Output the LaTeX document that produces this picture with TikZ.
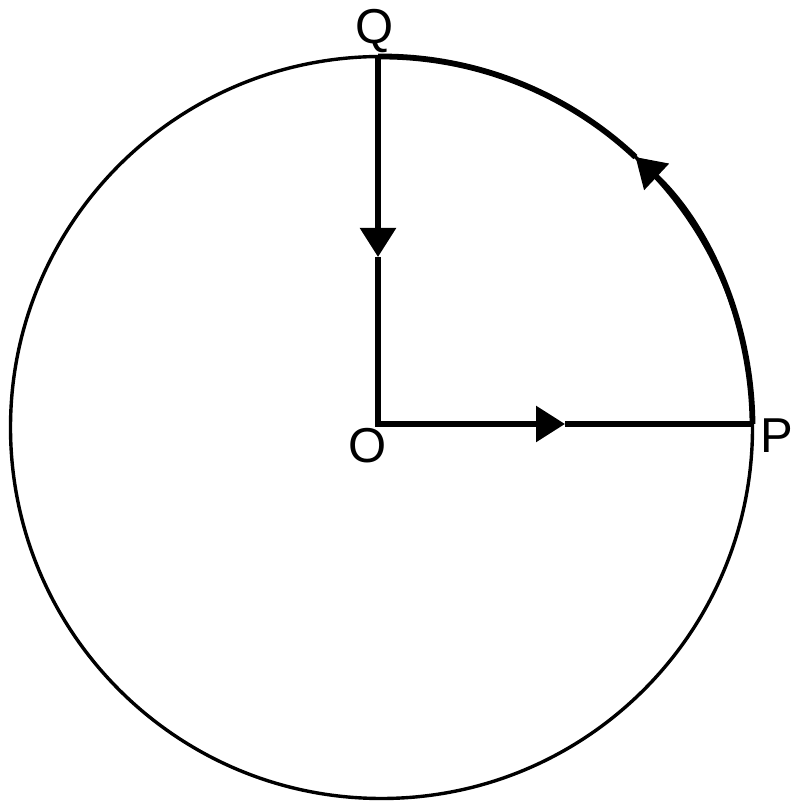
\documentclass[tikz,border=0pt]{standalone}
\usepackage{fontspec}
\setmainfont{Liberation Sans}
\usetikzlibrary{arrows.meta}
\begin{document}
\begin{tikzpicture}[x=1pt,y=1pt,>={Triangle[length=29pt,width=35pt]},line width=5.8pt,
  letra/.style={font=\fontsize{49}{49}\selectfont,inner sep=0pt}]
            \useasboundingbox (0,0) rectangle (797,810);

            % Circunferencia
            \coordinate (C) at (381.5,382.5);
            \draw[line width=3.4pt] (C) circle[radius=371];

            % Puntos
            \coordinate (O) at (378,386);
            \coordinate (P) at (752.5,386);
            \coordinate (Q) at (378,753.5);
            \coordinate (m) at (378,553);
            \coordinate (n) at (565,386);
            \coordinate (a) at ([shift={(46.8:371)}]C);

            % Líneas
            \draw[->] (Q) -- (m);
            \draw[->] (m) -- (O) -- (n);
            \draw (n) -- (P);

            % Arco
            \draw[->] (P) arc[start angle=0.54,end angle=46.8,radius=371];
            \draw (a) arc[start angle=46.8,end angle=90.54,radius=371];

            % Etiquetas
            \node[letra,anchor=base] (lQ) at (375,766) {Q};
            \node[letra,anchor=base] (lO) at (368,347) {O};
            \node[letra,anchor=base west] (lP) at (758,357) {P};
        \end{tikzpicture}
\end{document}
